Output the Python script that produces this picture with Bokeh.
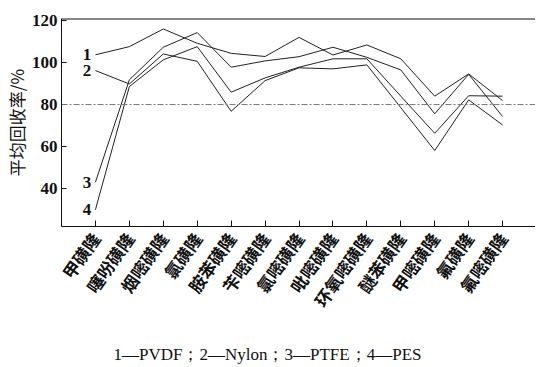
import math
from bokeh.plotting import figure
from bokeh.layouts import column
from bokeh.models import FixedTicker, Span, ColumnDataSource, Div
from bokeh.core.properties import value
from bokeh.embed import file_html
from bokeh.resources import INLINE

categories = ["甲磺隆", "噻吩磺隆", "烟嘧磺隆", "氯磺隆", "胺苯磺隆", "苄嘧磺隆", "氯嘧磺隆",
              "吡嘧磺隆", "环氧嘧磺隆", "醚苯磺隆", "甲嘧磺隆", "氟磺隆", "氟嘧磺隆"]
pvdf  = [103.7, 107.6, 116.0, 109.2, 104.4, 102.9, 112.0, 103.6, 108.4, 101.8, 84.0, 94.6, 81.9]
nylon = [96.2, 89.8, 104.1, 100.6, 76.8, 91.4, 97.5, 97.0, 98.9, 78.5, 58.1, 82.2, 70.3]
ptfe  = [43.0, 91.8, 107.3, 114.3, 97.8, 100.8, 102.8, 107.3, 102.5, 96.5, 75.6, 94.4, 74.3]
pes   = [29.9, 88.6, 101.3, 107.6, 85.9, 92.7, 97.8, 101.8, 101.8, 84.0, 66.3, 84.2, 84.0]
series_labels = ["1", "2", "3", "4"]
y_ticks = [40, 60, 80, 100, 120]
ref_value = 80
legend_text = "1—PVDF；2—Nylon；3—PTFE；4—PES"

SERIF = "Liberation Serif"
CJK = "Noto Sans CJK SC"

xs = list(range(len(categories)))

p = figure(width=535, height=341, output_backend="svg", toolbar_location=None,
           x_range=(-1.0, 12.97), y_range=(21.9, 121.0),
           min_border_left=56, min_border_right=0, min_border_top=18, min_border_bottom=115)
p.outline_line_color = None
p.grid.visible = False
p.background_fill_color = "white"
p.border_fill_color = "white"

# x axis
p.xaxis.ticker = FixedTicker(ticks=xs)
p.xaxis.major_label_overrides = {i: c for i, c in enumerate(categories)}
p.xaxis.major_label_orientation = 0.96
p.xaxis.major_label_text_font = CJK
p.xaxis.major_label_text_font_size = "17px"
p.xaxis.major_label_text_font_style = "bold"
p.xaxis.major_label_text_color = "#111"
p.xaxis.major_tick_in = 6
p.xaxis.major_tick_out = 0
p.xaxis.minor_tick_line_color = None
p.xaxis.axis_line_color = "#111"
p.xaxis.major_tick_line_color = "#111"
p.xaxis.major_label_standoff = 8

# y axis
p.yaxis.ticker = FixedTicker(ticks=y_ticks)
p.yaxis.major_label_text_font = SERIF
p.yaxis.major_label_text_font_size = "17px"
p.yaxis.major_label_text_font_style = "bold"
p.yaxis.major_label_text_color = "#111"
p.yaxis.major_tick_in = 5
p.yaxis.major_tick_out = 0
p.yaxis.minor_tick_line_color = None
p.yaxis.axis_line_color = "#111"
p.yaxis.major_tick_line_color = "#111"
p.yaxis.major_label_standoff = 4
p.yaxis.axis_label = "平均回收率/%"
p.yaxis.axis_label_text_font = CJK
p.yaxis.axis_label_text_font_size = "17px"
p.yaxis.axis_label_text_font_style = "normal"
p.yaxis.axis_label_text_color = "#111"
p.yaxis.axis_label_standoff = 0

# top border line
p.add_layout(Span(location=121.0, dimension="width", line_color="#111", line_width=2))
# reference line
p.add_layout(Span(location=ref_value, dimension="width", line_color="#777",
                  line_width=1, line_dash="6 2 2 2"))

for ys in (pvdf, nylon, ptfe, pes):
    p.line(xs, ys, line_color="#222", line_width=1)

lab_src = ColumnDataSource(dict(x=[-0.12] * 4, y=[pvdf[0], nylon[0], ptfe[0], pes[0]],
                                t=series_labels))
p.text(x="x", y="y", text="t", source=lab_src, text_font=value(SERIF),
       text_font_size="17px", text_align="right", text_baseline="middle",
       text_color="#111", text_font_style="bold")

legend_html = ('<div style="font-family:\'Liberation Serif\',serif;font-size:17px;'
               'line-height:18px;text-align:center;color:#111;width:535px;'
               'white-space:nowrap;position:relative;top:5px;">' + legend_text + '</div>')
legend = Div(text=legend_html, width=535, height=18, margin=(0, 0, 0, 0))

layout = column(p, legend, spacing=0)
open("out.html", "w").write(file_html(layout, INLINE))
